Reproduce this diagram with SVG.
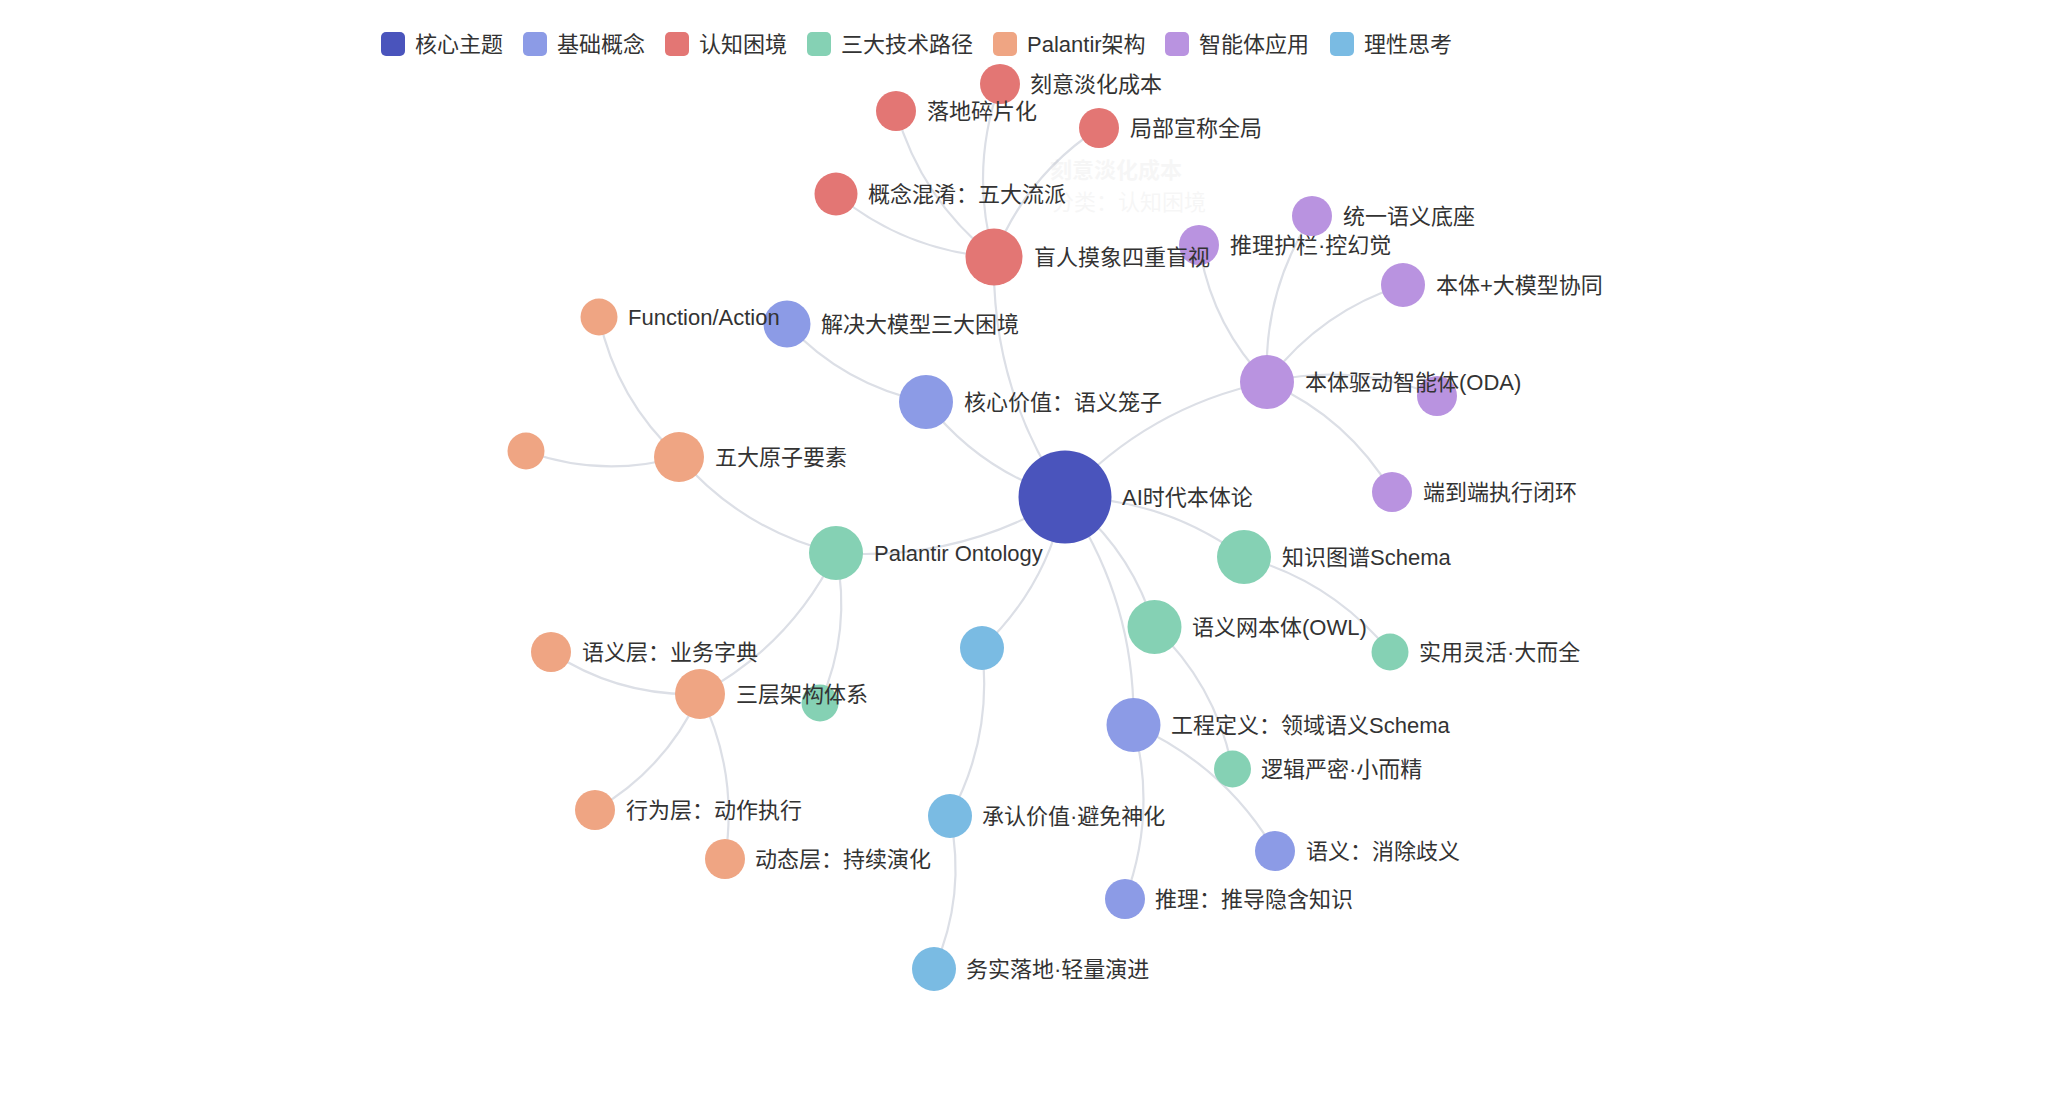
<svg xmlns="http://www.w3.org/2000/svg" width="2072" height="1116" viewBox="0 0 2072 1116">
<style>
text{font-family:"Liberation Sans","Noto Sans CJK SC",sans-serif;font-size:22px;fill:#333;dominant-baseline:central}
.e{fill:none;stroke:#dcdfe6;stroke-width:2.2}
.c0{fill:#4a54bc}.c1{fill:#8c9be6}.c2{fill:#e37674}.c3{fill:#85d1b4}.c4{fill:#efa583}.c5{fill:#b993e0}.c6{fill:#7abbe3}
.ghost{fill:#333;opacity:0.04}
</style>
<rect width="2072" height="1116" fill="#fff"/>
<g id="legend">
<rect class="c0" x="381" y="32" width="24" height="24" rx="5"/><text x="415" y="44">核心主题</text>
<rect class="c1" x="523" y="32" width="24" height="24" rx="5"/><text x="557" y="44">基础概念</text>
<rect class="c2" x="665" y="32" width="24" height="24" rx="5"/><text x="699" y="44">认知困境</text>
<rect class="c3" x="807" y="32" width="24" height="24" rx="5"/><text x="841" y="44">三大技术路径</text>
<rect class="c4" x="993" y="32" width="24" height="24" rx="5"/><text x="1027" y="44">Palantir架构</text>
<rect class="c5" x="1165" y="32" width="24" height="24" rx="5"/><text x="1199" y="44">智能体应用</text>
<rect class="c6" x="1330" y="32" width="24" height="24" rx="5"/><text x="1364" y="44">理性思考</text>
</g>
<g id="connectors">
<path class="e" d="M1065,497 Q980.3,471.7 926,402"/>
<path class="e" d="M1065,497 Q991.1,388.4 994,257"/>
<path class="e" d="M1065,497 Q1147.6,407.2 1267,382"/>
<path class="e" d="M1065,497 Q1164.1,498.4 1244,557"/>
<path class="e" d="M1065,497 Q1130.6,547.7 1154.5,627"/>
<path class="e" d="M1065,497 Q1135.7,600 1133.5,725"/>
<path class="e" d="M1065,497 Q959.5,561.6 836,553"/>
<path class="e" d="M1065,497 Q1047.7,585.8 982,648"/>
<path class="e" d="M926,402 Q844,385.2 787,324"/>
<path class="e" d="M994,257 Q904.9,250.8 836,194"/>
<path class="e" d="M994,257 Q921.6,199.7 896,111"/>
<path class="e" d="M994,257 Q969.3,169.5 1000,84"/>
<path class="e" d="M994,257 Q1025.9,175.7 1099,128"/>
<path class="e" d="M1267,382 Q1211.1,324.4 1199,245"/>
<path class="e" d="M1267,382 Q1262.9,291.8 1312,216"/>
<path class="e" d="M1267,382 Q1319.5,311.7 1403,285"/>
<path class="e" d="M1267,382 Q1354.2,361.8 1437,396"/>
<path class="e" d="M1267,382 Q1347.1,417 1392,492"/>
<path class="e" d="M1244,557 Q1332.2,581.1 1390,652"/>
<path class="e" d="M1154.5,627 Q1216.2,685.5 1232.5,769"/>
<path class="e" d="M1133.5,725 Q1224.4,765.4 1275,851"/>
<path class="e" d="M1133.5,725 Q1157.1,813.4 1125,899"/>
<path class="e" d="M836,553 Q742.1,530.1 679,457"/>
<path class="e" d="M836,553 Q790.6,645.3 700,694"/>
<path class="e" d="M836,553 Q852,630.6 820,703"/>
<path class="e" d="M679,457 Q616.6,399.8 599,317"/>
<path class="e" d="M679,457 Q601.5,478.5 526,451"/>
<path class="e" d="M700,694 Q618.8,696.8 551,652"/>
<path class="e" d="M700,694 Q666.1,768.8 595,810"/>
<path class="e" d="M700,694 Q738.9,772.5 725,859"/>
<path class="e" d="M982,648 Q992.9,737.1 950,816"/>
<path class="e" d="M950,816 Q966.5,895.1 934,969"/>
</g>
<g id="ghost">
<text class="ghost" x="1050" y="170" font-weight="bold">刻意淡化成本</text>
<text class="ghost" x="1052" y="202">分类：认知困境</text>
</g>
<g id="n_hidG"><circle class="c3" cx="820" cy="703" r="18.5"/></g>
<g id="n_hidP"><circle class="c5" cx="1437" cy="396" r="20"/></g>
<g id="n_hidO"><circle class="c4" cx="526" cy="451" r="18.5"/></g>
<g id="n_hidB"><circle class="c6" cx="982" cy="648" r="22"/></g>
<g id="n_guard"><circle class="c5" cx="1199" cy="245" r="20"/><text x="1230" y="245">推理护栏·控幻觉</text></g>
<g id="n_solve"><circle class="c1" cx="787" cy="324" r="23.5"/><text x="821" y="324">解决大模型三大困境</text></g>
<g id="n_core"><circle class="c0" cx="1065" cy="497" r="46.5"/><text x="1122" y="497">AI时代本体论</text></g>
<g id="n_blind"><circle class="c2" cx="994" cy="257" r="28.5"/><text x="1034" y="257">盲人摸象四重盲视</text></g>
<g id="n_cost"><circle class="c2" cx="1000" cy="84" r="20"/><text x="1030" y="84">刻意淡化成本</text></g>
<g id="n_frag"><circle class="c2" cx="896" cy="111" r="20"/><text x="927" y="111">落地碎片化</text></g>
<g id="n_local"><circle class="c2" cx="1099" cy="128" r="20"/><text x="1130" y="128">局部宣称全局</text></g>
<g id="n_confuse"><circle class="c2" cx="836" cy="194" r="21.5"/><text x="868" y="194">概念混淆：五大流派</text></g>
<g id="n_oda"><circle class="c5" cx="1267" cy="382" r="27"/><text x="1305" y="382">本体驱动智能体(ODA)</text></g>
<g id="n_base"><circle class="c5" cx="1312" cy="216" r="20"/><text x="1343" y="216">统一语义底座</text></g>
<g id="n_collab"><circle class="c5" cx="1403" cy="285" r="22"/><text x="1436" y="285">本体+大模型协同</text></g>
<g id="n_e2e"><circle class="c5" cx="1392" cy="492" r="20"/><text x="1423" y="492">端到端执行闭环</text></g>
<g id="n_value"><circle class="c1" cx="926" cy="402" r="27"/><text x="964" y="402">核心价值：语义笼子</text></g>
<g id="n_eng"><circle class="c1" cx="1133.5" cy="725" r="27"/><text x="1171" y="725">工程定义：领域语义Schema</text></g>
<g id="n_sem"><circle class="c1" cx="1275" cy="851" r="20"/><text x="1306" y="851">语义：消除歧义</text></g>
<g id="n_reason"><circle class="c1" cx="1125" cy="899" r="20"/><text x="1155" y="899">推理：推导隐含知识</text></g>
<g id="n_palantir"><circle class="c3" cx="836" cy="553" r="27"/><text x="874" y="553">Palantir Ontology</text></g>
<g id="n_kg"><circle class="c3" cx="1244" cy="557" r="27"/><text x="1282" y="557">知识图谱Schema</text></g>
<g id="n_owl"><circle class="c3" cx="1154.5" cy="627" r="27"/><text x="1192" y="627">语义网本体(OWL)</text></g>
<g id="n_flex"><circle class="c3" cx="1390" cy="652" r="18.5"/><text x="1419" y="652">实用灵活·大而全</text></g>
<g id="n_logic"><circle class="c3" cx="1232.5" cy="769" r="18.5"/><text x="1261" y="769">逻辑严密·小而精</text></g>
<g id="n_atom"><circle class="c4" cx="679" cy="457" r="25"/><text x="715" y="457">五大原子要素</text></g>
<g id="n_func"><circle class="c4" cx="599" cy="317" r="18.5"/><text x="628" y="317">Function/Action</text></g>
<g id="n_three"><circle class="c4" cx="700" cy="694" r="25"/><text x="736" y="694">三层架构体系</text></g>
<g id="n_semlayer"><circle class="c4" cx="551" cy="652" r="20"/><text x="582" y="652">语义层：业务字典</text></g>
<g id="n_behav"><circle class="c4" cx="595" cy="810" r="20"/><text x="626" y="810">行为层：动作执行</text></g>
<g id="n_dyn"><circle class="c4" cx="725" cy="859" r="20"/><text x="755" y="859">动态层：持续演化</text></g>
<g id="n_ack"><circle class="c6" cx="950" cy="816" r="22"/><text x="982" y="816">承认价值·避免神化</text></g>
<g id="n_prag"><circle class="c6" cx="934" cy="969" r="22"/><text x="966" y="969">务实落地·轻量演进</text></g>
</svg>
